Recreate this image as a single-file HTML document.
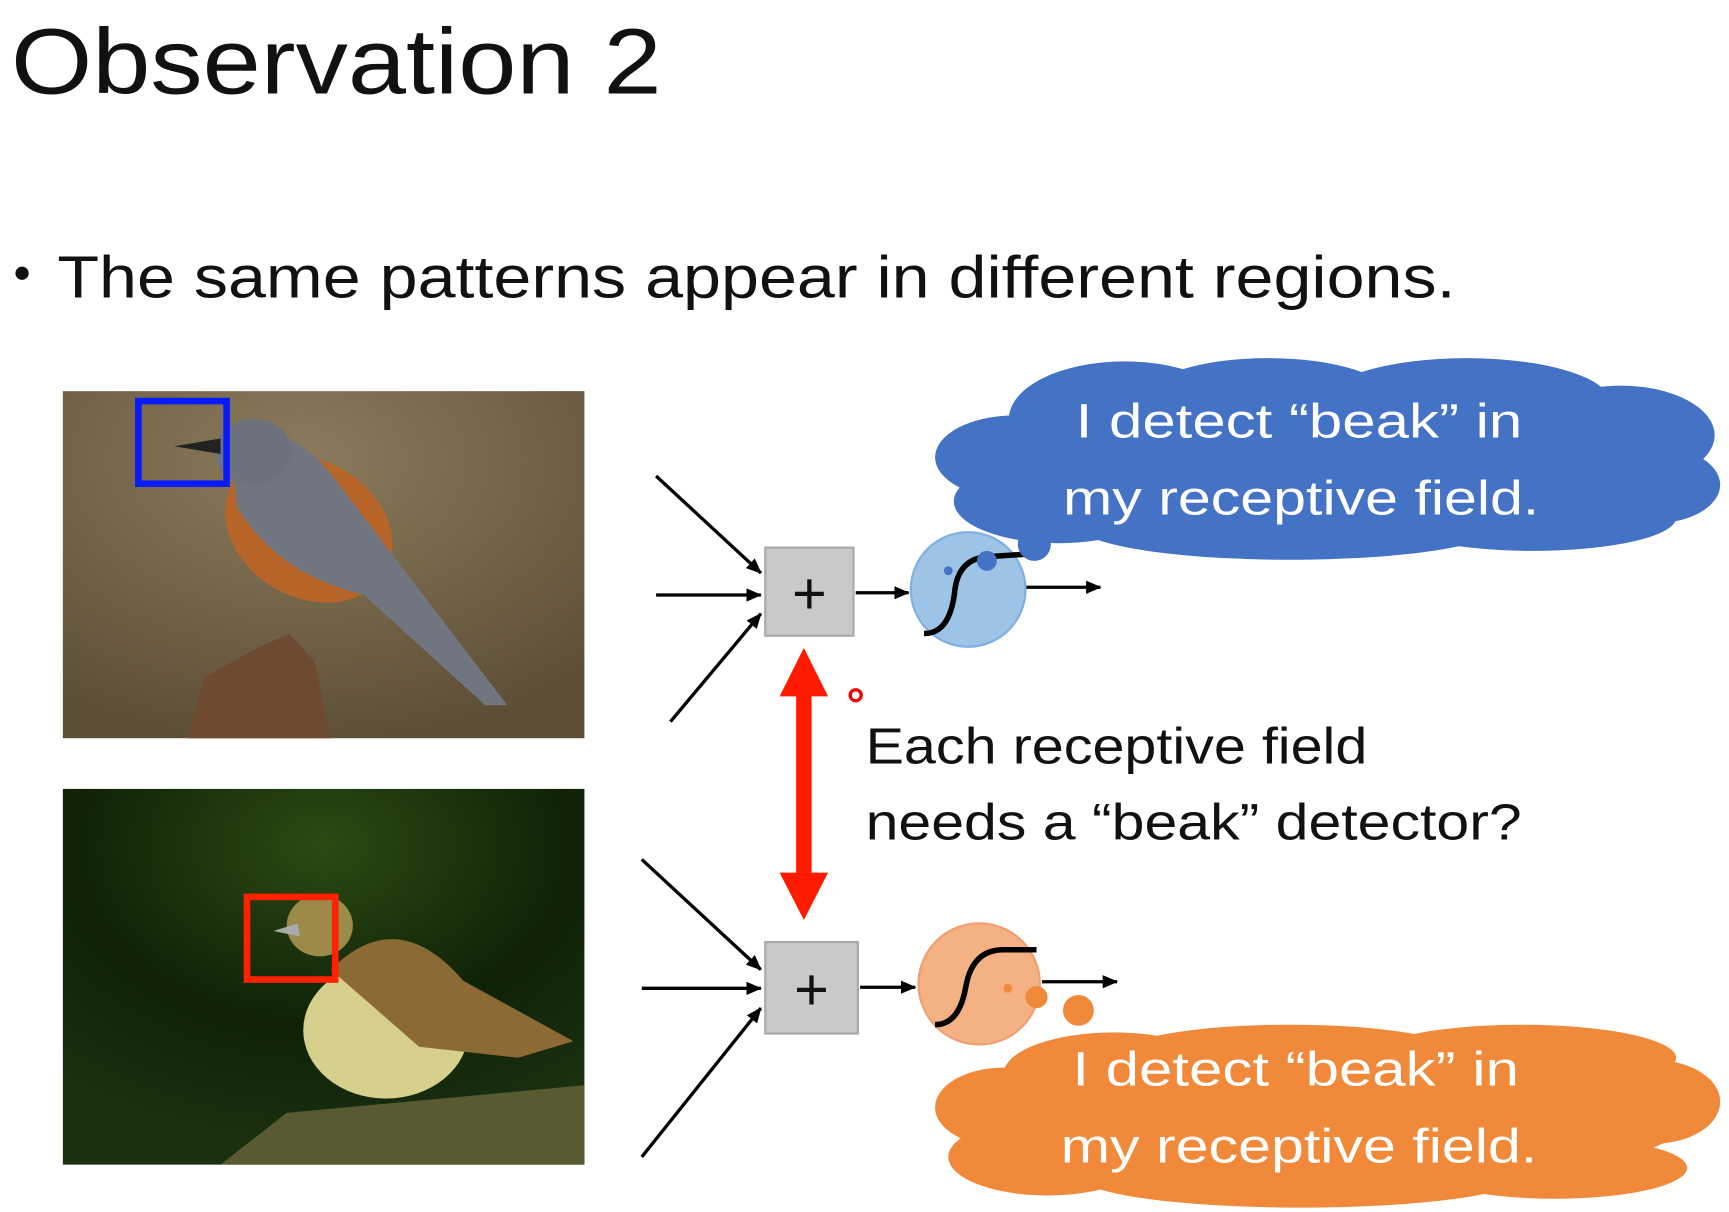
<!DOCTYPE html>
<html><head><meta charset="utf-8"><style>
html,body{margin:0;padding:0;background:#fff;}
svg{display:block;}
</style></head><body>
<svg width="1729" height="1212" viewBox="0 0 1568 1100" preserveAspectRatio="none" xmlns="http://www.w3.org/2000/svg">
<defs>
<radialGradient id="bg1" cx="0.45" cy="0.2" r="0.8"><stop offset="0" stop-color="#8c7b5c"/><stop offset="1" stop-color="#5e5037"/></radialGradient>
<radialGradient id="bg2" cx="0.5" cy="0.15" r="0.8"><stop offset="0" stop-color="#2c4a12"/><stop offset="0.6" stop-color="#0f2208"/><stop offset="1" stop-color="#1a3010"/></radialGradient>
<marker id="ah" markerWidth="14" markerHeight="12" refX="13" refY="6" orient="auto" markerUnits="userSpaceOnUse"><path d="M0,0 L14,6 L0,12 Z" fill="#000"/></marker>
</defs>
<g font-family="'Liberation Sans', sans-serif">
<text x="10" y="85" font-size="84" fill="#111" textLength="590" lengthAdjust="spacingAndGlyphs">Observation 2</text>
<circle cx="20" cy="248" r="6" fill="#111"/>
<text x="52" y="270" font-size="54" fill="#111" textLength="1268" lengthAdjust="spacingAndGlyphs">The same patterns appear in different regions.</text>
</g>
<!-- top image -->
<rect x="57" y="355" width="473" height="315" fill="url(#bg1)"/>
<path d="M170,670 L185,615 L230,590 L262,575 L285,600 L300,670 Z" fill="#6e4a30"/>
<ellipse cx="280" cy="480" rx="80" ry="62" fill="#b8652a" transform="rotate(30 280 480)"/>
<path d="M210,410 Q250,370 300,430 L460,640 L440,640 L330,540 Q250,520 215,460 Z" fill="#707580"/>
<ellipse cx="230" cy="410" rx="35" ry="30" fill="#6d717c"/>
<path d="M158,405 L200,398 L200,412 Z" fill="#222"/>
<rect x="125.5" y="364" width="80" height="75" fill="none" stroke="#0a1aff" stroke-width="6"/>
<!-- bottom image -->
<rect x="57" y="716" width="473" height="341" fill="url(#bg2)"/>
<path d="M200,1057 L260,1010 L530,985 L530,1057 Z" fill="#5a5a32"/>
<ellipse cx="350" cy="935" rx="75" ry="62" fill="#d7cf8c"/>
<path d="M300,880 Q360,820 420,890 L520,945 L470,960 L380,950 Z" fill="#8b6a35"/>
<ellipse cx="290" cy="840" rx="30" ry="28" fill="#9c8a48"/>
<path d="M248,845 L270,838 L272,850 Z" fill="#aaa"/>
<rect x="224" y="814" width="80" height="75" fill="none" stroke="#ff2200" stroke-width="6"/>
<!-- arrows -->
<g stroke="#000" stroke-width="3" fill="none" marker-end="url(#ah)">
<line x1="595" y1="432" x2="690" y2="520"/>
<line x1="595" y1="540" x2="690" y2="540"/>
<line x1="608" y1="655" x2="690" y2="557"/>
<line x1="776" y1="538" x2="824" y2="538"/>
<line x1="930" y1="533" x2="998" y2="533"/>
<line x1="582" y1="780" x2="690" y2="880"/>
<line x1="582" y1="897" x2="690" y2="897"/>
<line x1="582" y1="1050" x2="690" y2="915"/>
<line x1="780" y1="896" x2="830" y2="896"/>
<line x1="945" y1="891" x2="1013" y2="891"/>
</g>
<rect x="694" y="497" width="80" height="80" fill="#c9c9c9" stroke="#aaa" stroke-width="2"/>
<text x="734" y="557" font-family="'Liberation Sans',sans-serif" font-size="54" text-anchor="middle" fill="#111">+</text>
<rect x="694" y="855" width="84" height="83" fill="#c9c9c9" stroke="#aaa" stroke-width="2"/>
<text x="736" y="916" font-family="'Liberation Sans',sans-serif" font-size="54" text-anchor="middle" fill="#111">+</text>
<!-- circles -->
<ellipse cx="878" cy="535" rx="52" ry="52" fill="#9dc3e6" stroke="#7fb0e0" stroke-width="2"/>
<path d="M838,575 Q862,575 866,535 Q870,505 900,505 L930,503" stroke="#000" stroke-width="5" fill="none"/>
<ellipse cx="888" cy="893" rx="55" ry="55" fill="#f4b183" stroke="#f0a070" stroke-width="2"/>
<path d="M848,930 Q870,930 876,895 Q882,862 910,862 L940,862" stroke="#000" stroke-width="5" fill="none"/>
<!-- blue cloud -->
<g fill="#4472c4">
<ellipse cx="1205" cy="418" rx="330" ry="75"/>
<ellipse cx="1020" cy="380" rx="105" ry="52"/>
<ellipse cx="1150" cy="360" rx="110" ry="35"/>
<ellipse cx="1330" cy="365" rx="130" ry="40"/>
<ellipse cx="1470" cy="395" rx="85" ry="45"/>
<ellipse cx="920" cy="415" rx="72" ry="38"/>
<ellipse cx="1500" cy="440" rx="60" ry="35"/>
<ellipse cx="960" cy="455" rx="95" ry="38"/>
<ellipse cx="1170" cy="478" rx="190" ry="30"/>
<ellipse cx="1390" cy="470" rx="130" ry="30"/>
<circle cx="938" cy="494" r="15"/>
<circle cx="895" cy="509" r="9"/>
<circle cx="860" cy="518" r="4"/>
</g>
<g font-family="'Liberation Sans',sans-serif" font-size="44" fill="#fff" text-anchor="middle">
<text x="1178" y="397" textLength="405" lengthAdjust="spacingAndGlyphs">I detect “beak” in</text>
<text x="1180" y="467" textLength="432" lengthAdjust="spacingAndGlyphs">my receptive field.</text>
</g>
<!-- orange cloud -->
<g fill="#f08a3a">
<ellipse cx="1205" cy="1010" rx="330" ry="70"/>
<ellipse cx="1010" cy="975" rx="100" ry="38"/>
<ellipse cx="1170" cy="955" rx="150" ry="25"/>
<ellipse cx="1380" cy="960" rx="140" ry="30"/>
<ellipse cx="1500" cy="1000" rx="60" ry="38"/>
<ellipse cx="910" cy="1005" rx="62" ry="36"/>
<ellipse cx="950" cy="1050" rx="90" ry="35"/>
<ellipse cx="1180" cy="1068" rx="200" ry="28"/>
<ellipse cx="1410" cy="1060" rx="120" ry="28"/>
<circle cx="978" cy="917" r="14"/>
<circle cx="940" cy="905" r="10"/>
<circle cx="914" cy="897" r="4"/>
</g>
<g font-family="'Liberation Sans',sans-serif" font-size="44" fill="#fff" text-anchor="middle">
<text x="1175" y="985" textLength="405" lengthAdjust="spacingAndGlyphs">I detect “beak” in</text>
<text x="1178" y="1055" textLength="432" lengthAdjust="spacingAndGlyphs">my receptive field.</text>
</g>
<!-- red double arrow -->
<rect x="722" y="628" width="14" height="168" fill="#ff1a00"/>
<path d="M729,588 L751,632 L707,632 Z" fill="#ff1a00"/>
<path d="M729,835 L751,792 L707,792 Z" fill="#ff1a00"/>
<circle cx="776" cy="631" r="5" fill="none" stroke="#e00" stroke-width="3"/>
<g font-family="'Liberation Sans',sans-serif" font-size="46" fill="#111">
<text x="785" y="693" textLength="455" lengthAdjust="spacingAndGlyphs">Each receptive field</text>
<text x="785" y="762" textLength="595" lengthAdjust="spacingAndGlyphs">needs a “beak” detector?</text>
</g>
</svg>
</body></html>
